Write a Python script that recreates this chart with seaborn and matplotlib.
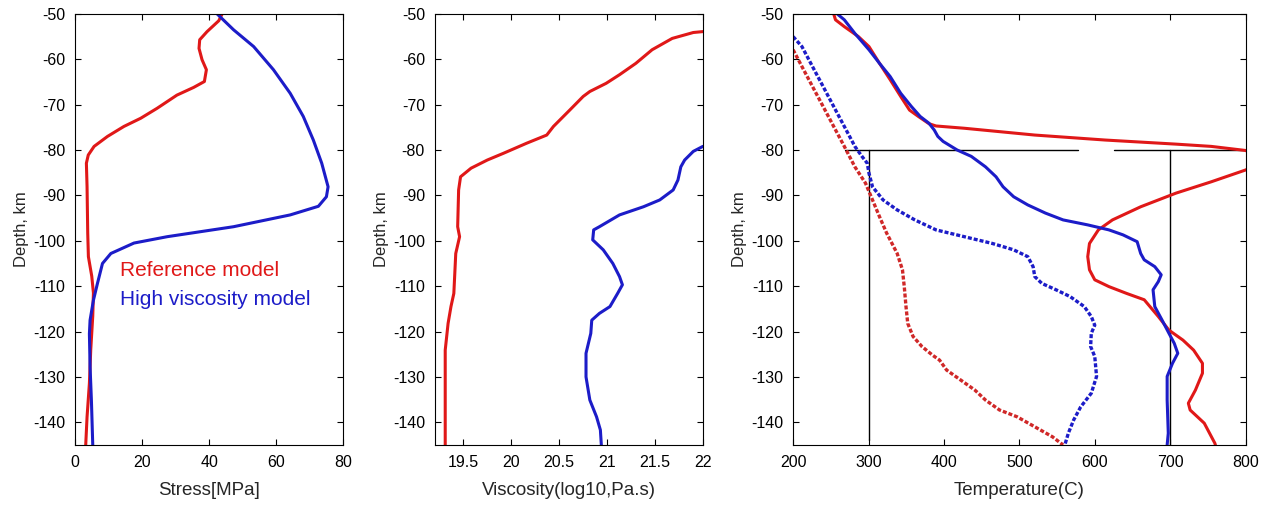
"""Depth profiles of stress, viscosity and temperature for two lithosphere models."""

import matplotlib

matplotlib.use("Agg")
import matplotlib.pyplot as plt
import seaborn as sns

# --- Stress panel (MPa vs depth km) ---
stress_ref_x = [43.9, 42.9, 39.4, 37.2, 37.0, 37.9, 39.2, 38.6, 35.4, 30.4, 24.5, 19.6, 14.6,
                9.7, 5.7, 3.96, 3.4, 3.6, 3.8, 4.0, 5.0, 5.5, 5.3, 4.7, 4.3, 3.6, 3.2]
stress_ref_y = [-50, -51.5, -53.9, -55.7, -57.6, -60.1, -62.3, -64.9, -66.2, -67.9, -70.8, -73,
                -74.8, -77, -79.2, -81.1, -82.9, -88.1, -98.3, -103.5, -107.8, -111.5, -116.6,
                -124, -131.4, -138.8, -145]
stress_hv_x = [42.4, 47.3, 53.3, 59.2, 64.2, 68.1, 71.1, 73.6, 75.5, 75.0, 72.6, 64.2, 47.3, 27.5,
               17.6, 10.7, 8.2, 6.7, 5.5, 4.5, 4.3, 4.5, 4.9, 5.3]
stress_hv_y = [-50, -53.5, -57.2, -62.3, -67.5, -72.6, -77.8, -82.9, -88.1, -90.3, -92.4, -94.3,
               -96.9, -99.1, -100.5, -102.8, -105, -109.4, -113.1, -117.5, -120.5, -127.8,
               -135.2, -145]

# --- Viscosity panel (log10 Pa.s vs depth km) ---
visc_ref_x = [22.0, 21.9, 21.68, 21.47, 21.3, 21.13, 20.99, 20.82, 20.75, 20.61, 20.44, 20.37,
              20.16, 19.92, 19.75, 19.58, 19.47, 19.45, 19.44, 19.46, 19.42, 19.4, 19.37, 19.34,
              19.31, 19.31]
visc_ref_y = [-53.9, -54.1, -55.4, -57.9, -60.9, -63.4, -65.3, -67.1, -68.2, -71.2, -74.8, -76.7,
              -78.5, -80.7, -82.2, -84, -85.9, -88.8, -96.9, -99.1, -102.8, -111.6, -114.5,
              -118.2, -124.1, -145]
visc_hv_x = [22.0, 21.9, 21.81, 21.77, 21.74, 21.69, 21.55, 21.38, 21.13, 20.92, 20.86, 20.85,
             20.96, 21.06, 21.13, 21.16, 21.11, 21.03, 20.92, 20.84, 20.83, 20.78, 20.78, 20.82,
             20.89, 20.93, 20.94]
visc_hv_y = [-79.2, -80.3, -82.2, -83.7, -86.6, -88.8, -91, -92.5, -94.3, -96.9, -97.6, -99.8,
             -102, -105, -107.9, -109.7, -111.6, -114.5, -116, -117.5, -120.4, -124.8, -130,
             -135.1, -138.8, -141.7, -145]

# --- Temperature panel (C vs depth km) ---
temp_ref_x = [253.8, 256.2, 267.9, 286.6, 300.6, 314.6, 328.7, 342.7, 354.4, 366.1, 380.2, 389.5,
              427, 520.5, 614, 707.7, 754.5, 800, 830, 800, 754.5, 707.7, 661, 623.5, 604.8, 593,
              590.7, 593, 600, 618.8, 642.2, 665.6, 684.3, 698.4, 717, 731.1, 742.8, 742.8, 733.5,
              724.1, 726.5, 745.2, 759.2, 760]
temp_ref_y = [-50, -51.3, -52.8, -55, -57.2, -60.9, -64.5, -68.2, -71.2, -72.6, -74.2, -74.7,
              -75.2, -76.7, -77.8, -78.7, -79.2, -80.1, -82.2, -84.4, -87, -89.5, -92.5, -95.4,
              -97.6, -100.6, -103.5, -106.4, -108.6, -110.1, -111.6, -113, -116.7, -119.7, -121.9,
              -124.1, -127, -129.2, -132.9, -135.8, -137.3, -140.2, -144.6, -145]
temp_hv_x = [258.5, 267.9, 281.9, 300.6, 314.6, 328.7, 342.7, 356.8, 368.5, 380.2, 387.2, 391.9,
             398.9, 417.6, 436.3, 455.1, 469.1, 478.4, 492.5, 511.2, 534.6, 558, 590.7, 618.8,
             637.5, 656.2, 660.9, 665.6, 679.6, 688.1, 684.3, 677.3, 679.6, 689, 698.4, 705.4,
             710.1, 703.1, 696, 696, 697.5, 696]
temp_hv_y = [-50, -51.3, -54.3, -57.9, -60.9, -63.8, -67.5, -70.4, -72.6, -74.1, -75.6, -77,
             -78.1, -80, -81.4, -83.7, -85.9, -88.1, -90.3, -92.1, -93.9, -95.4, -96.5, -97.6,
             -98.7, -100.2, -102.8, -104.2, -105.7, -107.5, -109, -110.8, -114.5, -117.4, -120.4,
             -122.6, -124.8, -127, -129.9, -135.1, -142.4, -145]
temp_hv_dash_x = [200, 211.7, 225.7, 239.8, 253.8, 267.9, 281.9, 291.3, 298.3, 300.6, 305.3,
                  319.3, 338, 361.4, 389.5, 427, 464.4, 492.5, 511.2, 518.2, 520.5, 529.9, 548.6,
                  567.3, 586.1, 595.4, 600, 595.4, 594.5, 600, 602.4, 595.4, 581.4, 572, 565,
                  560.3]
temp_hv_dash_y = [-55, -57.2, -61.6, -66, -70.4, -74.8, -79.2, -81.4, -82.9, -85.1, -88.1, -91,
                  -93.2, -95.4, -97.6, -99.1, -100.6, -102, -103.5, -105.7, -107.9, -109.4,
                  -110.8, -112.3, -114.5, -116.7, -118.6, -120.4, -123.3, -125.5, -129.9, -133.6,
                  -136.6, -139.5, -142.4, -145]
temp_ref_dash_x = [200, 211.7, 225.7, 239.8, 253.8, 267.9, 281.9, 296, 305.3, 314.6, 324, 338,
                   345, 347.4, 349.7, 352, 359.1, 370.8, 384.8, 394.2, 403.6, 422.3, 441, 455.1,
                   473.8, 497.1, 520.5, 543.9, 558]
temp_ref_dash_y = [-57.9, -61.6, -66, -70.4, -74.8, -79.2, -83.7, -87.3, -91, -94.7, -98.3,
                   -102.8, -106.4, -110.1, -114.5, -118.2, -121.1, -123.3, -125.2, -126.3, -128.5,
                   -130.7, -132.9, -135.1, -137.3, -138.8, -141, -143.2, -145]

# reference guide lines in the temperature panel
guide_h1_x, guide_h1_y = [269, 578], [-80, -80]
guide_h2_x, guide_h2_y = [625, 800], [-80, -80]
guide_v1_x, guide_v1_y = [300, 300], [-80, -144]
guide_v2_x, guide_v2_y = [700, 700], [-80, -145]

depth_ticks = [-50, -60, -70, -80, -90, -100, -110, -120, -130, -140]

RED = "#e01818"
BLUE = "#1c1cc8"
DASH_RED = "#d02828"

sns.set_theme(style="ticks")
plt.rcParams["font.family"] = ["Liberation Sans", "DejaVu Sans"]
plt.rcParams["axes.unicode_minus"] = False

fig = plt.figure(figsize=(12.71, 5.15), dpi=100)
bottom, height = 0.136, 0.837
ax1 = fig.add_axes([0.059, bottom, 0.211, height])
ax2 = fig.add_axes([0.342, bottom, 0.211, height])
ax3 = fig.add_axes([0.624, bottom, 0.356, height])


def line(ax, x, y, color, lw=2.2, dashes=None):
    kw = dict(x=x, y=y, sort=False, estimator=None, color=color, lw=lw, ax=ax, legend=False)
    if dashes is not None:
        kw["linestyle"] = (0, dashes)
    sns.lineplot(**kw)


line(ax1, stress_ref_x, stress_ref_y, RED)
line(ax1, stress_hv_x, stress_hv_y, BLUE)
ax1.text(13.4, -106.5, "Reference model", color=RED, fontsize=15, va="center", ha="left")
ax1.text(13.4, -112.9, "High viscosity model", color=BLUE, fontsize=15, va="center", ha="left")
ax1.set_xlim(0, 80)
ax1.set_xticks([0, 20, 40, 60, 80])
ax1.set_xlabel("Stress[MPa]")

line(ax2, visc_ref_x, visc_ref_y, RED)
line(ax2, visc_hv_x, visc_hv_y, BLUE)
ax2.set_xlim(19.2, 22)
ax2.set_xticks([19.5, 20, 20.5, 21, 21.5, 22])
ax2.set_xticklabels(["19.5", "20", "20.5", "21", "21.5", "22"])
ax2.set_xlabel("Viscosity(log10,Pa.s)")

for gx, gy in [(guide_h1_x, guide_h1_y), (guide_h2_x, guide_h2_y),
               (guide_v1_x, guide_v1_y), (guide_v2_x, guide_v2_y)]:
    line(ax3, gx, gy, "black", lw=1.0)
line(ax3, temp_ref_dash_x, temp_ref_dash_y, DASH_RED, lw=2.4, dashes=(1.2, 0.6))
line(ax3, temp_hv_dash_x, temp_hv_dash_y, BLUE, lw=2.4, dashes=(1.2, 0.6))
line(ax3, temp_ref_x, temp_ref_y, RED)
line(ax3, temp_hv_x, temp_hv_y, BLUE)
ax3.set_xlim(200, 800)
ax3.set_xticks([200, 300, 400, 500, 600, 700, 800])
ax3.set_xlabel("Temperature(C)")

for ax in (ax1, ax2, ax3):
    ax.set_ylim(-145, -50)
    ax.set_yticks(depth_ticks)
    ax.set_ylabel("Depth, km", fontsize=12, labelpad=3)
    ax.xaxis.label.set_size(13.5)
    ax.xaxis.labelpad = 9
    ax.tick_params(direction="in", top=True, right=True, length=4, width=0.8,
                   labelsize=11.5, colors="black", pad=7)
    for sp in ax.spines.values():
        sp.set_visible(True)
        sp.set_color("black")
        sp.set_linewidth(0.8)

fig.savefig("out.png", dpi=100)
plt.close(fig)
